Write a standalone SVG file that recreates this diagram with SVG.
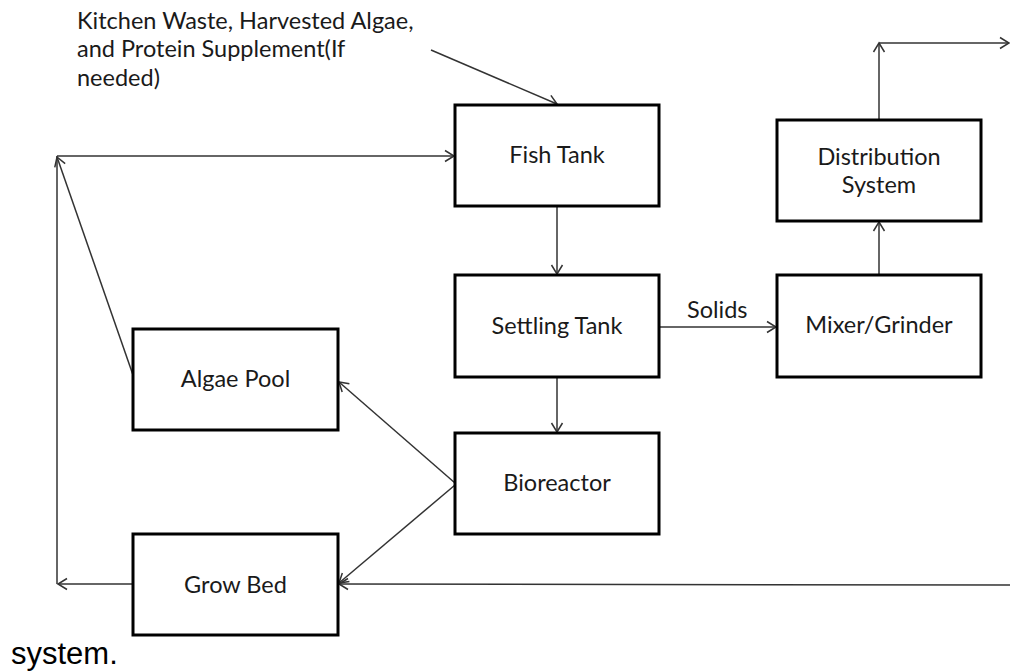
<svg xmlns="http://www.w3.org/2000/svg" width="1010" height="671" viewBox="0 0 1010 671">
<defs>
<marker id="ah" markerUnits="userSpaceOnUse" markerWidth="14" markerHeight="14" refX="10" refY="6" orient="auto" overflow="visible">
<path d="M1,0.5 L10,6 L1,11.5" fill="none" stroke="#333" stroke-width="1.5"/>
</marker>
<style>
.box{fill:#fff;stroke:#000;stroke-width:3}
.lbl{font-family:Lato,"Open Sans","Liberation Sans",sans-serif;font-size:23.5px;fill:#1a1a1a;text-anchor:middle}
.note{font-family:Lato,"Open Sans","Liberation Sans",sans-serif;font-size:23.5px;fill:#1a1a1a}
.c{fill:none;stroke:#333;stroke-width:1.5}
.a{marker-end:url(#ah)}
</style>
</defs>
<rect width="1010" height="671" fill="#fff"/>
<g id="connectors">
<line class="c a" x1="431" y1="50" x2="557" y2="104"/>
<line class="c" x1="57" y1="584" x2="57" y2="156"/>
<line class="c a" x1="57" y1="156" x2="454" y2="156"/>
<line class="c a" x1="133" y1="375" x2="57" y2="157"/>
<line class="c a" x1="133" y1="584" x2="58" y2="584"/>
<line class="c a" x1="557" y1="206" x2="557" y2="274"/>
<line class="c a" x1="557" y1="377" x2="557" y2="432"/>
<line class="c a" x1="659" y1="327" x2="776" y2="327"/>
<line class="c a" x1="879" y1="275" x2="879" y2="222"/>
<line class="c a" x1="879" y1="120" x2="879" y2="43"/>
<line class="c a" x1="879" y1="43" x2="1009" y2="43"/>
<line class="c a" x1="455" y1="483" x2="339" y2="382"/>
<line class="c a" x1="455" y1="485" x2="339" y2="583"/>
<line class="c a" x1="1010" y1="585" x2="339" y2="584"/>
</g>
<g id="fish-tank"><rect class="box" x="455" y="105" width="204" height="101"/><text class="lbl" x="557" y="163">Fish Tank</text></g>
<g id="settling-tank"><rect class="box" x="455" y="275" width="204" height="102"/><text class="lbl" x="557" y="334">Settling Tank</text></g>
<g id="bioreactor"><rect class="box" x="455" y="433" width="204" height="101"/><text class="lbl" x="557" y="491">Bioreactor</text></g>
<g id="algae-pool"><rect class="box" x="133" y="329" width="205" height="101"/><text class="lbl" x="235.5" y="387">Algae Pool</text></g>
<g id="grow-bed"><rect class="box" x="133" y="534" width="205" height="101"/><text class="lbl" x="235.5" y="593">Grow Bed</text></g>
<g id="distribution-system"><rect class="box" x="777" y="120" width="204" height="101"/><text class="lbl" x="879" y="165">Distribution</text><text class="lbl" x="879" y="193">System</text></g>
<g id="mixer-grinder"><rect class="box" x="777" y="275" width="204" height="102"/><text class="lbl" x="879" y="333">Mixer/Grinder</text></g>
<g id="labels">
<text class="note" x="77" y="29">Kitchen Waste, Harvested Algae,</text>
<text class="note" x="77" y="57">and Protein Supplement(If</text>
<text class="note" x="77" y="86">needed)</text>
<text class="note" x="687" y="318">Solids</text>
<text x="11" y="664" font-family="'Liberation Sans',Arial,sans-serif" font-size="31" fill="#000">system.</text>
</g>
</svg>
